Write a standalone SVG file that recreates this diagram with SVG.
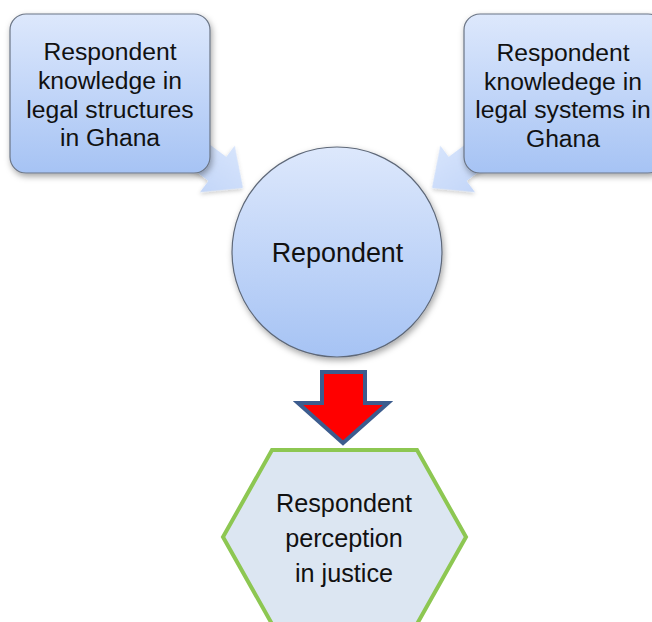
<svg xmlns="http://www.w3.org/2000/svg" width="652" height="622" viewBox="0 0 652 622">
<defs>
<linearGradient id="gBlue" x1="0" y1="0" x2="0" y2="1">
<stop offset="0" stop-color="#DDE8FC"/>
<stop offset="1" stop-color="#A6C3F4"/>
</linearGradient>
<linearGradient id="gArrow" x1="0" y1="0" x2="0" y2="1">
<stop offset="0" stop-color="#D6E4FC"/>
<stop offset="1" stop-color="#C3D6F8"/>
</linearGradient>
<filter id="sh" x="-20%" y="-20%" width="150%" height="150%">
<feDropShadow dx="1.5" dy="3" stdDeviation="3" flood-color="#000" flood-opacity="0.35"/>
</filter>
<filter id="shs" x="-20%" y="-20%" width="150%" height="150%">
<feDropShadow dx="1" dy="2" stdDeviation="2" flood-color="#000" flood-opacity="0.2"/>
</filter>
</defs>
<style>
.t{font-family:"Liberation Sans",Arial,sans-serif;fill:#111;text-anchor:middle}
.box{fill:url(#gBlue);stroke:#6B7585;stroke-width:1.2;filter:url(#sh)}
.blk{fill:url(#gArrow);stroke:none;filter:url(#shs)}
</style>
<rect width="652" height="622" fill="#FFFFFF"/>
<g id="connectors">
<polygon class="blk" transform="translate(243,188) rotate(36.7)" points="0,0 -32,-29 -32,-15 -130,-15 -130,15 -32,15 -32,29"/>
<polygon class="blk" transform="translate(432,188) scale(-1,1) rotate(36.7)" points="0,0 -32,-29 -32,-15 -130,-15 -130,15 -32,15 -32,29"/>
<polygon fill="#FF0000" stroke="#3C5C8E" stroke-width="4" stroke-linejoin="miter" points="322,372 365,372 365,403 388,403 343,443 298,403 322,403"/>
</g>
<g id="node-structures">
<rect class="box" x="10" y="14" width="200" height="159" rx="16"/>
<text class="t" font-size="24.7"><tspan x="110" y="60">Respondent</tspan><tspan x="110" y="89">knowledge in</tspan><tspan x="110" y="117.5">legal structures</tspan><tspan x="110" y="146">in Ghana</tspan></text>
</g>
<g id="node-systems">
<rect class="box" x="464" y="14" width="200" height="159" rx="16"/>
<text class="t" font-size="24.7"><tspan x="563" y="60.5">Respondent</tspan><tspan x="563" y="89.5">knowledege in</tspan><tspan x="563" y="117.5">legal systems in</tspan><tspan x="563" y="146.5">Ghana</tspan></text>
</g>
<g id="node-respondent">
<circle cx="337" cy="252" r="105" fill="url(#gBlue)" stroke="#5E6878" stroke-width="1.2" filter="url(#sh)"/>
<text class="t" x="337.5" y="261.5" font-size="26.9">Repondent</text>
</g>
<g id="node-perception">
<polygon points="272,450 417,450 466,537 417,624 272,624 223,537" fill="#DCE6F2" stroke="#8DC752" stroke-width="4"/>
<text class="t" font-size="25.2"><tspan x="344" y="511.5">Respondent</tspan><tspan x="344" y="546.5">perception</tspan><tspan x="344" y="581.5">in justice</tspan></text>
</g>
</svg>
